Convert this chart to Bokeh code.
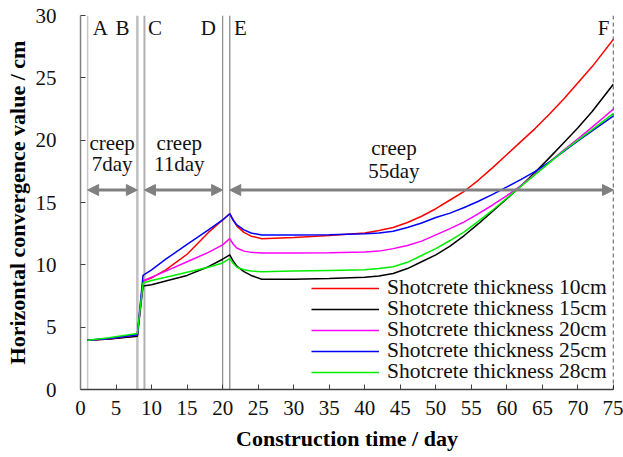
from bokeh.plotting import figure
from bokeh.models import (Range1d, FixedTicker, Span, Arrow, NormalHead, Legend,
                          LegendItem, ColumnDataSource)
from bokeh.core.properties import value
from bokeh.embed import file_html
from bokeh.resources import INLINE

# ---------------- data ----------------
days = [1, 4, 8, 8.8, 10, 12, 15, 18, 20, 21, 21.5, 22, 23, 24, 25.5, 30, 35, 40, 42, 44,
        46, 48, 50, 52, 54, 56, 58, 60, 62, 64, 66, 68, 70, 72, 75]

t10 = [3.95, 4.05, 4.3, 8.7, 8.95, 9.6, 10.85, 12.6, 13.6, 14.1, 13.6, 13.1, 12.6, 12.3, 12.1,
       12.2, 12.35, 12.55, 12.75, 13.0, 13.4, 13.9, 14.5, 15.2, 15.9, 16.8, 17.8, 18.85, 19.9,
       20.95, 22.1, 23.3, 24.6, 25.9, 28.1]
t15 = [3.95, 4.05, 4.28, 8.3, 8.4, 8.7, 9.15, 9.85, 10.45, 10.8, 10.3, 9.9, 9.45, 9.15, 8.85,
       8.85, 8.9, 9.0, 9.1, 9.3, 9.7, 10.25, 10.8, 11.5, 12.35, 13.3, 14.3, 15.3, 16.35, 17.45,
       18.6, 19.8, 21.0, 22.3, 24.5]
t20 = [3.95, 4.1, 4.4, 8.7, 9.0, 9.5, 10.25, 11.0, 11.6, 12.1, 11.65, 11.35, 11.1, 11.0, 10.95,
       10.95, 10.97, 11.03, 11.1, 11.3, 11.55, 11.9, 12.4, 12.9, 13.45, 14.1, 14.8, 15.55, 16.35,
       17.3, 18.25, 19.2, 20.1, 21.05, 22.5]
t25 = [3.95, 4.1, 4.4, 9.15, 9.6, 10.45, 11.65, 12.8, 13.6, 14.1, 13.55, 13.2, 12.8, 12.55, 12.4,
       12.4, 12.42, 12.5, 12.55, 12.7, 13.0, 13.35, 13.8, 14.15, 14.6, 15.1, 15.65, 16.25, 16.85,
       17.5, 18.25, 19.1, 19.95, 20.75, 21.95]
t28 = [3.95, 4.15, 4.5, 8.55, 8.75, 9.0, 9.4, 9.8, 10.15, 10.5, 10.1, 9.8, 9.6, 9.5, 9.45,
       9.5, 9.55, 9.6, 9.7, 9.85, 10.2, 10.75, 11.3, 11.95, 12.65, 13.5, 14.4, 15.35, 16.3,
       17.25, 18.2, 19.15, 20.0, 20.85, 22.15]

series_labels = ["Shotcrete thickness 10cm", "Shotcrete thickness 15cm",
                 "Shotcrete thickness 20cm", "Shotcrete thickness 25cm",
                 "Shotcrete thickness 28cm"]
series_values = [t10, t15, t20, t25, t28]
series_colors = ["#ff0000", "#000000", "#ff00ff", "#0000ff", "#00ee00"]

x_ticks = [0, 5, 10, 15, 20, 25, 30, 35, 40, 45, 50, 55, 60, 65, 70, 75]
y_ticks = [0, 5, 10, 15, 20, 25, 30]

stage_days = [1, 8, 9, 20, 21, 75]
stage_names = ["A", "B", "C", "D", "E", "F"]
creep_periods = [(1, 8, "7day"), (9, 20, "11day"), (21, 75, "55day")]

FONT = "Liberation Serif"

# ---------------- figure ----------------
p = figure(width=623, height=457, output_backend="svg", toolbar_location=None,
           x_range=Range1d(0, 75), y_range=Range1d(0, 30),
           min_border_left=80, min_border_right=10, min_border_top=15, min_border_bottom=68)
p.xgrid.visible = False
p.ygrid.visible = False
p.outline_line_color = None

# stage lines
span_styles = [("#c8c8c8", 1.5, None), ("#c0c0c0", 2.5, None), ("#b0b0b0", 2, None),
               ("#8a8a8a", 1.2, None), ("#9a9a9a", 1.5, None), ("#000000", 1.3, "4 3")]
for d, (col, w, dash) in zip(stage_days, span_styles):
    s = Span(location=d, dimension="height", line_color=col, line_width=w, level="underlay")
    if dash:
        s.line_dash = dash
        s.level = "annotation"
    p.add_layout(s)

# curves, one compact legend row per series (rows 21 px apart)
n = len(series_labels)
for k, (lab, vals, col) in enumerate(zip(series_labels, series_values, series_colors)):
    src = ColumnDataSource(dict(x=days, y=vals))
    r = p.line("x", "y", source=src, line_color=col, line_width=1.5)
    leg = Legend(items=[LegendItem(label=lab, renderers=[r])],
                 location=(231, 5 + (n - 1 - k) * 21), glyph_width=68, glyph_height=20,
                 label_height=20, label_standoff=8, spacing=0, padding=0, margin=0,
                 border_line_color=None, background_fill_alpha=0,
                 label_text_font=FONT, label_text_font_size="21.5px",
                 label_text_color="#111111")
    p.add_layout(leg)

# arrows
for a, b, _ in creep_periods:
    p.add_layout(Arrow(x_start=a, y_start=16, x_end=b, y_end=16,
                       line_color="#808080", line_width=3,
                       start=NormalHead(size=11, fill_color="#808080", line_color="#808080"),
                       end=NormalHead(size=11, fill_color="#808080", line_color="#808080")))

# stage letters
letter_x = [2.8, 5.9, 10.5, 18.0, 22.5, 73.6]
p.text(x=letter_x, y=[29.0] * 6, text=stage_names, text_font=value(FONT),
       text_font_size="21px", text_align="center", text_baseline="middle",
       text_color="#111111")

# creep labels
creep_x = [4.45, 13.9, 44.1]
p.text(x=creep_x, y=[19.8, 19.8, 19.4], text=["creep"] * 3, text_font=value(FONT),
       text_font_size="21px", text_align="center", text_baseline="middle",
       text_color="#111111")
p.text(x=creep_x, y=[18.05, 18.05, 17.5], text=[c[2] for c in creep_periods],
       text_font=value(FONT), text_font_size="21px", text_align="center",
       text_baseline="middle", text_color="#111111")

# axes
p.xaxis.ticker = FixedTicker(ticks=x_ticks)
p.yaxis.ticker = FixedTicker(ticks=y_ticks)
for ax in (p.xaxis[0], p.yaxis[0]):
    ax.major_tick_in = 5
    ax.major_tick_out = 0
    ax.minor_tick_line_color = None
    ax.major_label_text_font = FONT
    ax.major_label_text_font_size = "21px"
    ax.major_label_text_color = "#111111"
    ax.axis_label_text_font = FONT
    ax.axis_label_text_font_size = "22px"
    ax.axis_label_text_font_style = "bold"
    ax.axis_label_text_color = "#000000"
p.xaxis.axis_label = "Construction time / day"
p.yaxis.axis_label = "Horizontal convergence value / cm"
p.xaxis.axis_line_color = "#404040"
p.xaxis.major_tick_line_color = "#404040"
p.yaxis.axis_line_color = "#808080"
p.yaxis.major_tick_line_color = "#404040"
p.xaxis.axis_line_width = 1.5
p.yaxis.axis_line_width = 1.5
p.xaxis.major_label_standoff = 11
p.xaxis.axis_label_standoff = 8
p.yaxis.major_label_standoff = 24
p.yaxis.axis_label_standoff = 3

open("out.html", "w").write(file_html(p, INLINE))
